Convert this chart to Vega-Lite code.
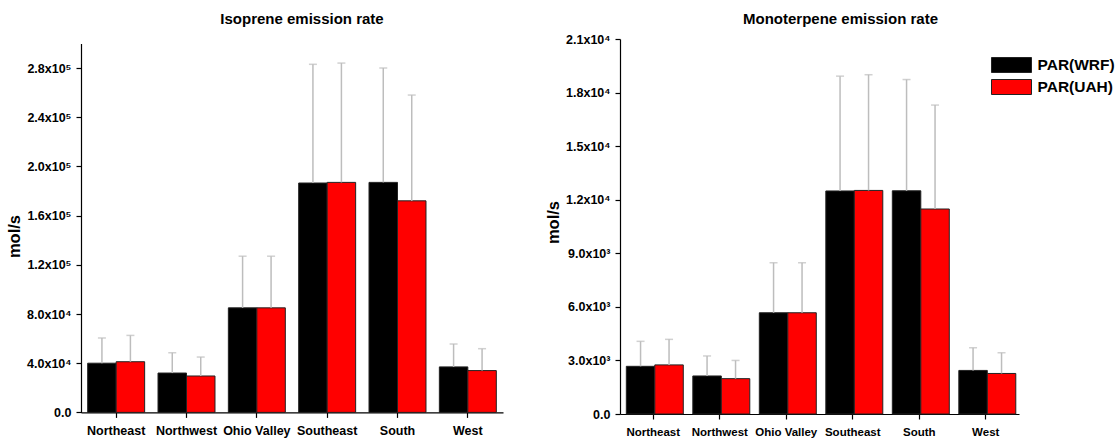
{
  "$schema": "https://vega.github.io/schema/vega-lite/v6.json",
  "padding": {"left": 6, "top": 12, "right": 0, "bottom": 0},
  "spacing": 42,
  "background": "white",
  "config": {
    "font": "Liberation Sans",
    "view": {"stroke": null},
    "axis": {"grid": false, "domainColor": "#000", "tickColor": "#000", "labelColor": "#000", "titleColor": "#000", "labelFontWeight": "bold", "titleFontWeight": "bold", "domainWidth": 1.2, "tickWidth": 1.2},
    "title": {"fontSize": 15, "fontWeight": "bold", "color": "#000", "font": "Liberation Sans"}
  },
  "datasets": {
    "emis": [
      {"species": "Isoprene", "region": "Northeast", "model": "PAR(WRF)", "value": 40000, "upper": 60500},
      {"species": "Isoprene", "region": "Northeast", "model": "PAR(UAH)", "value": 41200, "upper": 62600},
      {"species": "Isoprene", "region": "Northwest", "model": "PAR(WRF)", "value": 32000, "upper": 48500},
      {"species": "Isoprene", "region": "Northwest", "model": "PAR(UAH)", "value": 29600, "upper": 45000},
      {"species": "Isoprene", "region": "Ohio Valley", "model": "PAR(WRF)", "value": 85000, "upper": 127000},
      {"species": "Isoprene", "region": "Ohio Valley", "model": "PAR(UAH)", "value": 85000, "upper": 127000},
      {"species": "Isoprene", "region": "Southeast", "model": "PAR(WRF)", "value": 186500, "upper": 283000},
      {"species": "Isoprene", "region": "Southeast", "model": "PAR(UAH)", "value": 187000, "upper": 284000},
      {"species": "Isoprene", "region": "South", "model": "PAR(WRF)", "value": 187000, "upper": 280000},
      {"species": "Isoprene", "region": "South", "model": "PAR(UAH)", "value": 172000, "upper": 258000},
      {"species": "Isoprene", "region": "West", "model": "PAR(WRF)", "value": 37000, "upper": 55600},
      {"species": "Isoprene", "region": "West", "model": "PAR(UAH)", "value": 34000, "upper": 51800},
      {"species": "Monoterpene", "region": "Northeast", "model": "PAR(WRF)", "value": 2670, "upper": 4070},
      {"species": "Monoterpene", "region": "Northeast", "model": "PAR(UAH)", "value": 2750, "upper": 4180},
      {"species": "Monoterpene", "region": "Northwest", "model": "PAR(WRF)", "value": 2130, "upper": 3250},
      {"species": "Monoterpene", "region": "Northwest", "model": "PAR(UAH)", "value": 1980, "upper": 3000},
      {"species": "Monoterpene", "region": "Ohio Valley", "model": "PAR(WRF)", "value": 5670, "upper": 8470},
      {"species": "Monoterpene", "region": "Ohio Valley", "model": "PAR(UAH)", "value": 5670, "upper": 8470},
      {"species": "Monoterpene", "region": "Southeast", "model": "PAR(WRF)", "value": 12490, "upper": 18920},
      {"species": "Monoterpene", "region": "Southeast", "model": "PAR(UAH)", "value": 12520, "upper": 19000},
      {"species": "Monoterpene", "region": "South", "model": "PAR(WRF)", "value": 12500, "upper": 18730},
      {"species": "Monoterpene", "region": "South", "model": "PAR(UAH)", "value": 11480, "upper": 17300},
      {"species": "Monoterpene", "region": "West", "model": "PAR(WRF)", "value": 2440, "upper": 3710},
      {"species": "Monoterpene", "region": "West", "model": "PAR(UAH)", "value": 2270, "upper": 3430}
    ]
  },
  "hconcat": [
    {
      "width": 422,
      "height": 373.4,
      "title": {"text": "Isoprene emission rate", "dx": 10, "offset": 12},
      "data": {"name": "emis"},
      "transform": [{"filter": "datum.species == 'Isoprene'"}],
      "encoding": {
        "x": {"field": "region", "type": "nominal", "sort": ["Northeast", "Northwest", "Ohio Valley", "Southeast", "South", "West"],
              "scale": {"paddingInner": 0.19, "paddingOuter": 0.095},
              "axis": {"title": null, "labelAngle": 0, "labelFontSize": 12.5, "tickSize": 5, "labelPadding": 7}},
        "xOffset": {"field": "model", "type": "nominal", "sort": ["PAR(WRF)", "PAR(UAH)"]}
      },
      "layer": [
        {
          "mark": {"type": "bar", "stroke": "#222", "strokeWidth": 1},
          "encoding": {
            "y": {"field": "value", "type": "quantitative", "scale": {"domain": [0, 300000], "nice": false, "range": [373.4, 4.4]},
                  "axis": {"title": "mol/s", "titleFontSize": 16.5, "titlePadding": 4, "titleY": 197, "labelFontSize": 12.5, "tickSize": 5, "labelPadding": 5,
                           "values": [0, 20000, 40000, 60000, 80000, 100000, 120000, 140000, 160000, 180000, 200000, 220000, 240000, 260000, 280000, 300000],
                           "labelExpr": "datum.value % 40000 != 0 ? '' : datum.value == 0 ? '0.0' : (datum.value < 100000 ? format(datum.value / 10000, '.1f') + 'x10⁴' : format(datum.value / 100000, '.1f') + 'x10⁵')"}},
            "fill": {"field": "model", "type": "nominal", "sort": ["PAR(WRF)", "PAR(UAH)"], "scale": {"domain": ["PAR(WRF)", "PAR(UAH)"], "range": ["#000000", "#ff0000"]}, "legend": null}
          }
        },
        {
          "mark": {"type": "rule", "color": "#bdbdbd", "strokeWidth": 1.5},
          "encoding": {"y": {"field": "value", "type": "quantitative"}, "y2": {"field": "upper"}}
        },
        {
          "mark": {"type": "tick", "color": "#bdbdbd", "size": 8, "thickness": 1.5},
          "encoding": {"y": {"field": "upper", "type": "quantitative"}}
        }
      ]
    },
    {
      "width": 399,
      "height": 375,
      "title": {"text": "Monoterpene emission rate", "dx": 21, "offset": 6},
      "data": {"name": "emis"},
      "transform": [{"filter": "datum.species == 'Monoterpene'"}],
      "encoding": {
        "x": {"field": "region", "type": "nominal", "sort": ["Northeast", "Northwest", "Ohio Valley", "Southeast", "South", "West"],
              "scale": {"paddingInner": 0.19, "paddingOuter": 0.095},
              "axis": {"title": null, "labelAngle": 0, "labelFontSize": 11.5, "tickSize": 5, "labelPadding": 7}},
        "xOffset": {"field": "model", "type": "nominal", "sort": ["PAR(WRF)", "PAR(UAH)"]}
      },
      "layer": [
        {
          "mark": {"type": "bar", "stroke": "#222", "strokeWidth": 1},
          "encoding": {
            "y": {"field": "value", "type": "quantitative", "scale": {"domain": [0, 21000], "nice": false},
                  "axis": {"title": "mol/s", "titleFontSize": 16.5, "titlePadding": 4, "titleY": 183, "labelFontSize": 12.5, "tickSize": 5, "labelPadding": 5,
                           "values": [0, 1500, 3000, 4500, 6000, 7500, 9000, 10500, 12000, 13500, 15000, 16500, 18000, 19500, 21000],
                           "labelExpr": "datum.value % 3000 != 0 ? '' : datum.value == 0 ? '0.0' : (datum.value < 10000 ? format(datum.value / 1000, '.1f') + 'x10³' : format(datum.value / 10000, '.1f') + 'x10⁴')"}},
            "fill": {"field": "model", "type": "nominal", "sort": ["PAR(WRF)", "PAR(UAH)"], "scale": {"domain": ["PAR(WRF)", "PAR(UAH)"], "range": ["#000000", "#ff0000"]},
                     "legend": {"orient": "none", "legendX": 383.5, "legendY": 18, "title": null, "padding": 0,
                                "symbolType": "M-2.667,-1L2.667,-1L2.667,1L-2.667,1Z", "symbolSize": 225, "symbolStrokeColor": "#222", "symbolStrokeWidth": 1,
                                "labelFontSize": 15.5, "labelFontWeight": "bold", "labelColor": "#000", "labelOffset": 18, "rowPadding": 2}}
          }
        },
        {
          "mark": {"type": "rule", "color": "#bdbdbd", "strokeWidth": 1.5},
          "encoding": {"y": {"field": "value", "type": "quantitative"}, "y2": {"field": "upper"}}
        },
        {
          "mark": {"type": "tick", "color": "#bdbdbd", "size": 8, "thickness": 1.5},
          "encoding": {"y": {"field": "upper", "type": "quantitative"}}
        }
      ]
    }
  ],
  "resolve": {"scale": {"x": "independent", "y": "independent", "fill": "independent"}, "legend": {"fill": "independent"}}
}
